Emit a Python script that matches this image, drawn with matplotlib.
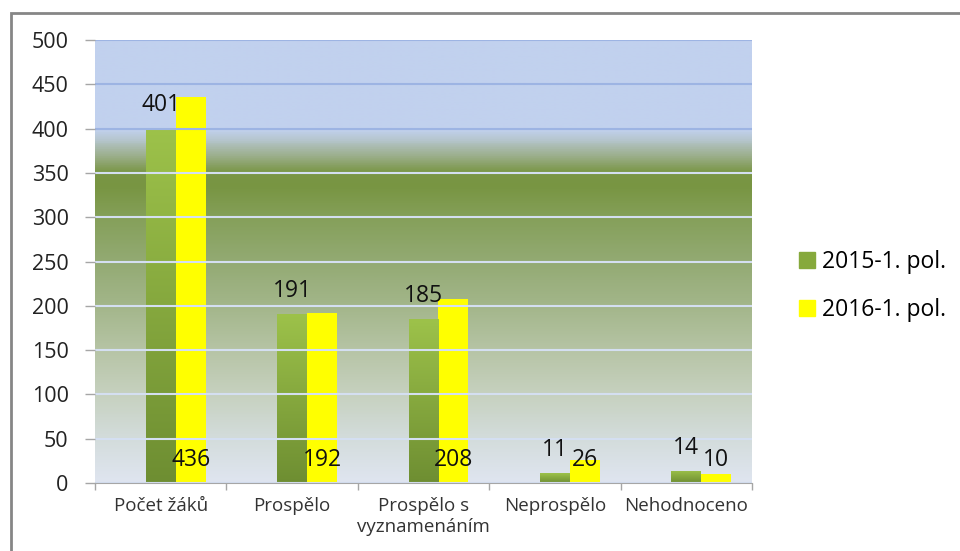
import numpy as np
import matplotlib
matplotlib.use("Agg")
import matplotlib.pyplot as plt
from matplotlib.colors import LinearSegmentedColormap
from matplotlib.patches import Rectangle

categories = ["Počet žáků", "Prospělo", "Prospělo s\nvyznamenáním", "Neprospělo", "Nehodnoceno"]
series_names = ["2015-1. pol.", "2016-1. pol."]
vals_2015 = [401, 191, 185, 11, 14]
vals_2016 = [436, 192, 208, 26, 10]
yticks = list(range(0, 501, 50))

plt.rcParams["font.family"] = ["Open Sans", "DejaVu Sans"]

fig = plt.figure(figsize=(9.6, 5.51), dpi=100)
ax = fig.add_axes([95 / 960, 68 / 551, 657 / 960, 443 / 551])

# plot-area background: blue sky on top, green band, fading to pale blue-grey
bg_stops = [(0, "#dfe5f0"), (50 / 500, "#d3dcdb"), (100 / 500, "#c6d1bf"),
            (150 / 500, "#b6c4a5"), (200 / 500, "#a3b68a"), (250 / 500, "#93aa73"),
            (300 / 500, "#85a05a"), (335 / 500, "#789542"), (352 / 500, "#7a9647"),
            (370 / 500, "#9caf8c"), (388 / 500, "#b5c5cc"), (400 / 500, "#c1d1ee"),
            (1, "#c1d1ee")]
bg_cmap = LinearSegmentedColormap.from_list("bg", bg_stops)
grad = np.linspace(0, 1, 500).reshape(-1, 1)
ax.imshow(grad, cmap=bg_cmap, origin="lower", aspect="auto",
          extent=(-0.5, 4.5, 0, 500), zorder=0, interpolation="bilinear")

x = np.arange(len(categories))
w = 0.228
bar_cmap = LinearSegmentedColormap.from_list("bar", ["#6e8e32", "#9dc24a"])
bars_g = ax.bar(x, vals_2015, w, color="none", edgecolor="none", zorder=2)
bars_y = ax.bar(x + w, vals_2016, w, color="#ffff00", edgecolor="none", zorder=2)
for b in bars_g:
    x0, h = b.get_x(), b.get_height()
    im = ax.imshow(grad, cmap=bar_cmap, origin="lower", aspect="auto",
                   extent=(x0, x0 + w, 0, h), zorder=2, interpolation="bilinear")
    im.set_clip_path(b)

for i, (a, b) in enumerate(zip(vals_2015, vals_2016)):
    ax.text(x[i], a + 26, str(a), ha="center", va="center", fontsize=16.5, color="#111111", zorder=4)
    ax.text(x[i] + w, 26, str(b), ha="center", va="center", fontsize=16.5, color="#111111", zorder=4)

ax.set_xlim(-0.5, 4.5)
ax.set_ylim(0, 500)
ax.set_yticks(yticks)
ax.tick_params(axis="y", length=7, width=1, color="#a6a6a6", pad=12, labelsize=15.5, labelcolor="#222222")
ax.set_xticks(x)
ax.set_xticklabels(categories, fontsize=13.5, color="#333333", linespacing=1.25)
ax.set_xticks(np.arange(-0.5, 5, 1), minor=True)
ax.tick_params(axis="x", which="major", length=0, pad=10)
ax.tick_params(axis="x", which="minor", length=5, width=1, color="#a6a6a6")

ax.grid(axis="y", lw=1.5, zorder=1)
for val, gl in zip(yticks, ax.get_ygridlines()):
    gl.set_color("#9db4e3" if val >= 400 else "#d4dff1")
    gl.set_zorder(1)
ax.set_axisbelow(False)
for s in ["left", "top", "right"]:
    ax.spines[s].set_visible(False)
ax.spines["bottom"].set_color("#a6a6a6")
ax.spines["bottom"].set_zorder(3)

handles = [Rectangle((0, 0), 1, 1, color="#86a93c"), Rectangle((0, 0), 1, 1, color="#ffff00")]
fig.legend(handles, series_names, loc="center left", bbox_to_anchor=(790 / 960, 1 - 286 / 551),
           frameon=False, fontsize=16.5, handlelength=0.7, handleheight=0.7,
           handletextpad=0.3, labelspacing=1.05, borderaxespad=0)

# outer chart frame (runs off the right and bottom edges)
fig.add_artist(Rectangle((11 / 960, -0.1), 1.2, 1 - 13 / 551 + 0.1, transform=fig.transFigure,
                         fill=False, edgecolor="#868686", lw=2, clip_on=False))

fig.savefig("out.png", dpi=100)
